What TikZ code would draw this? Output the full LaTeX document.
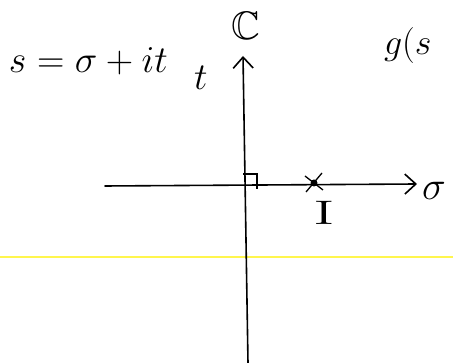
\RequirePackage{fix-cm}
\documentclass[tikz,border=0pt]{standalone}
\usepackage{amssymb}
\usetikzlibrary{arrows.meta,calc}
\begin{document}
\begin{tikzpicture}[x=1pt,y=1pt,
  axisline/.style={line width=1.6pt,line cap=round},
  barbtip/.style={-{Straight Barb[length=11pt,width=20pt,line width=1.6pt]}},
  lbl/.style={inner sep=0pt,outer sep=0pt}]
\useasboundingbox (0,0) rectangle (453,363);
% yellow ruled line
\coordinate (yl) at (0,106);
\coordinate (yr) at (453,106);
\draw[yellow!70,line width=1.5pt] (yl) -- (yr);
% axes
\coordinate (hstart) at (105,177);
\coordinate (hend) at (417,179);
\coordinate (vstart) at (248,0);
\coordinate (vend) at (243,307);
\draw[axisline,barbtip] (hstart) -- (hend);
\draw[axisline,barbtip] (vstart) -- (vend);
% right-angle mark
\coordinate (ra1) at (243,189);
\coordinate (ra2) at (257,189);
\coordinate (ra3) at (257,174);
\draw[line width=1.3pt] (ra1) -- (ra2) -- (ra3);
% cross with dot
\coordinate (pt) at (314,180);
\coordinate (c1) at (306,171);
\coordinate (c2) at (322,190);
\coordinate (c3) at (305,187);
\coordinate (c4) at (323,173);
\draw[line width=1.3pt] (c1) -- (c2);
\draw[line width=1.3pt] (c3) -- (c4);
\fill (pt) circle (3.5pt);
% labels
\node[lbl,anchor=base west] (eq) at (9,290) {\fontsize{38}{42}\selectfont $s=\sigma+it$};
\node[lbl,anchor=base west] (tl) at (194,273) {\fontsize{38}{42}\selectfont $t$};
\node[lbl] (CC) at (246,337) {\scalebox{1.6}{\fontsize{24.88}{28}\selectfont $\mathbb{C}$}};
\node[lbl,anchor=base west] (gs) at (384,308) {\fontsize{36}{40}\selectfont $g(s$};
\node[lbl] (sig) at (434,172) {\fontsize{40}{44}\selectfont $\sigma$};
\node[lbl] (one) at (324,150) {\scalebox{5}[3.4]{I}};
\end{tikzpicture}
\end{document}
